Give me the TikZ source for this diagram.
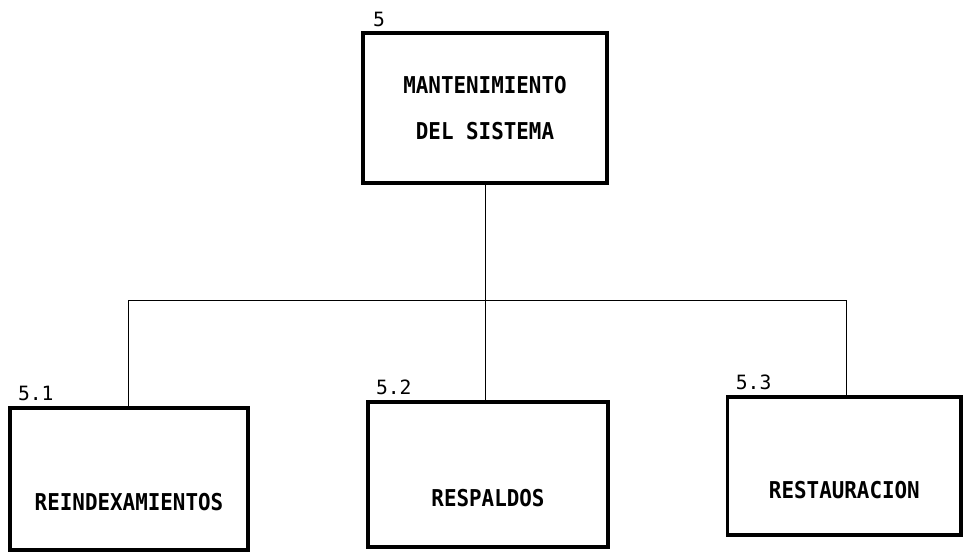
\documentclass[tikz,border=0pt]{standalone}
\usepackage{fontspec}
\usepackage{tikz}
\usetikzlibrary{calc}
\newfontfamily\dfdfont[FakeStretch=0.9]{DejaVu Sans Mono}
\newfontfamily\numfont{DejaVu Sans Mono}
\tikzset{
	proc/.style={
			draw, line width=2.4pt, rectangle, inner sep=0pt,
			font=\dfdfont\bfseries\fontsize{16.5}{20}\selectfont
		},
	proctext/.style={font=\dfdfont\bfseries\fontsize{16.5}{20}\selectfont},
	num/.style={font=\numfont\fontsize{14}{16}\selectfont, inner sep=1pt, anchor=south west},
	wire/.style={line width=0.6pt}
}

\begin{document}
\begin{tikzpicture}
        \useasboundingbox (0, 0) rectangle (24.075, -13.8);
        \node[proc, minimum width=6.1cm, minimum height=3.75cm, align=center] (p_5) at (12.125, -2.7) {MANTENIMIENTO\\[0.45cm]DEL SISTEMA};
        \node[proc, minimum width=5.95cm, minimum height=3.55cm,
              label={[proctext, yshift=-0.58cm]center:REINDEXAMIENTOS}] (p_5_1) at (3.225, -11.975) {};
        \node[proc, minimum width=6.0cm, minimum height=3.625cm,
              label={[proctext, yshift=-0.58cm]center:RESPALDOS}] (p_5_2) at (12.2, -11.86) {};
        \node[proc, minimum width=5.83cm, minimum height=3.45cm,
              label={[proctext, yshift=-0.6cm]center:RESTAURACION}] (p_5_3) at (21.11, -11.65) {};
        \node[num] (n_5) at ($(p_5.north west) + (0.25, 0.06)$) {5};
        \node[num] (n_5_1) at ($(p_5_1.north west) + (0.2, 0.1)$) {5.1};
        \node[num] (n_5_2) at ($(p_5_2.north west) + (0.2, 0.1)$) {5.2};
        \node[num] (n_5_3) at ($(p_5_3.north west) + (0.2, 0.1)$) {5.3};
        \coordinate (bus) at (0, -7.5);
        \coordinate (drop_1) at ($(p_5_1.north) + (-0.025, 0)$);
        \coordinate (drop_3) at ($(p_5_3.north) + (0.06, 0)$);
        \draw[wire] (p_5.south) -- (p_5.south |- bus);
        \draw[wire] (drop_1 |- bus) -- (drop_3 |- bus);
        \draw[wire] (drop_1 |- bus) -- (drop_1);
        \draw[wire] (p_5.south |- bus) -- (p_5.south |- p_5_2.north);
        \draw[wire] (drop_3 |- bus) -- (drop_3);
    \end{tikzpicture}
\end{document}
